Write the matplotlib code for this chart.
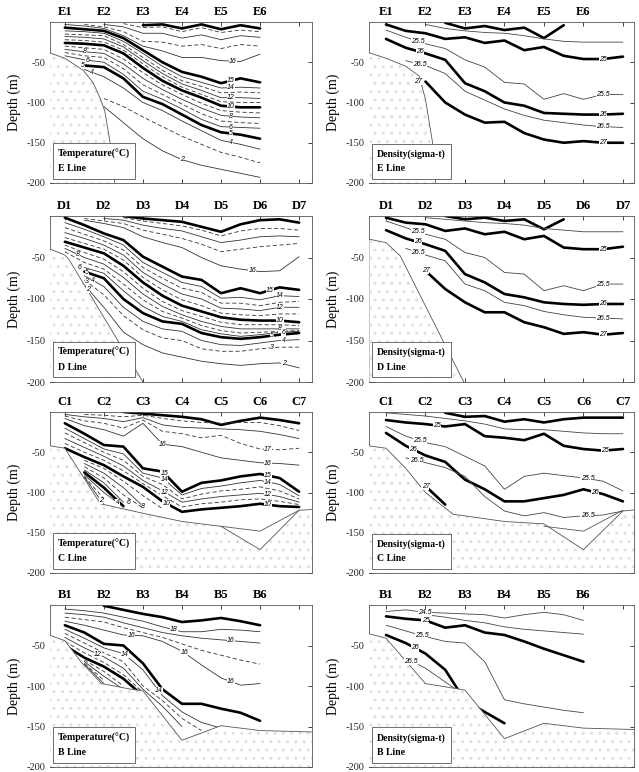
import numpy as np
import matplotlib
matplotlib.use('Agg')
import matplotlib.pyplot as plt

N = None  # no data (contour absent at that station)

# ---------------- E line ----------------
E_STATIONS = ['E1', 'E2', 'E3', 'E4', 'E5', 'E6']
E_TEMP_GRID = [0, 0.5, 1, 1.5, 2, 2.5, 3, 3.5, 4, 4.5, 5]
E_TEMP = {
    '20': [N, N, N, N, -4, -3, -8, -3, -9, -4, -8],
    '19': [N, N, N, -2, -7, -6, -12, -7, -13, -10, -12],
    '18': [N, N, -3, -6, -14, -14, -20, -16, -22, -17, -19],
    '17': [N, -3, -6, -12, -24, -25, -30, -28, -33, -28, -30],
    '16': [-3, -5, -8, -17, -30, -36, -44, -44, -48, -49, -40],
    '15': [-7, -9, -11, -20, -35, -50, -62, -68, -76, -70, -75],
    '14': [-11, -12, -14, -24, -39, -55, -68, -75, -82, -81, -82],
    '13': [-15, -16, -17, -28, -44, -60, -73, -80, -88, -87, -88],
    '12': [-18, -19, -21, -31, -48, -64, -77, -85, -94, -94, -95],
    '11': [-22, -23, -25, -35, -52, -68, -81, -90, -99, -100, -100],
    '10': [-26, -27, -29, -39, -57, -73, -85, -94, -104, -106, -106],
    '9': [-30, -32, -34, -46, -63, -78, -90, -101, -110, -112, -113],
    '8': [-34, -37, -39, -52, -70, -84, -96, -107, -116, -118, -119],
    '7': [-38, -42, -44, -58, -78, -90, -102, -114, -123, -125, -126],
    '6': [-42, -47, -50, -65, -86, -96, -108, -121, -130, -131, -132],
    '5': [N, -54, -56, -70, -93, -102, -115, -128, -137, -140, -145],
    '4': [N, -59, -68, -82, -100, -110, -123, -135, -147, -152, -158],
    '3': [N, N, -95, -105, -118, -130, -142, -152, -162, -168, -175],
    '2': [N, N, -105, -125, -145, -160, -171, -178, -183, -188, -193],
}
E_TEMP_LABELS = [('16', 4.3), ('15', 4.25), ('14', 4.25), ('12', 4.25), ('10', 4.25),
                 ('8', 4.25), ('6', 4.25), ('5', 4.25), ('4', 4.25), ('2', 3.0),
                 ('8', 0.52), ('6', 0.57), ('5', 0.47), ('4', 0.7)]
E_FLOOR_X = [-0.47, 0, 0.47, 0.72, 0.89, 1.02, 1.15, 1.28]
E_FLOOR_D = [-37, -45, -60, -75, -93, -110, -147, -200]

E_DENS_GRID = [0, 0.5, 1, 1.5, 2, 2.5, 3, 3.5, 4, 4.5, 5, 5.5, 6]
E_DENS = {
    '24': [N, N, N, -1, -8, -5, -10, -7, -20, -4, N, N, N],
    '24.5': [N, N, -3, -8, -11, -13, -14, -17, -21, -24, -25, -25, -25],
    '25': [-3, -11, -14, -21, -19, -26, -23, -35, -31, -42, -46, -46, -43],
    '25.5': [-10, -19, -27, -33, -47, -56, -75, -77, -96, -89, -96, -90, -90],
    '26': [-21, -32, -39, -47, -76, -86, -100, -104, -113, -114, -115, -115, -114],
    '26.5': [N, -48, -54, -64, -86, -97, -108, -116, -122, -125, -128, -130, -131],
    '27': [N, N, -74, -100, -115, -125, -124, -138, -146, -150, -148, -150, -150],
}
E_DENS_LABELS = [('25.5', 0.8), ('26', 0.85), ('26.5', 0.85), ('27', 0.8),
                 ('25', 5.5), ('25.5', 5.5), ('26', 5.5), ('26.5', 5.5), ('27', 5.5)]
E_DFLOOR_X = [-0.44, 0, 0.5, 0.84, 1.0, 1.18, 1.26]
E_DFLOOR_D = [-38, -45, -55, -67, -96, -150, -200]

# ---------------- D line ----------------
D_STATIONS = ['D1', 'D2', 'D3', 'D4', 'D5', 'D6', 'D7']
D_GRID = [0, 0.5, 1, 1.5, 2, 2.5, 3, 3.5, 4, 4.5, 5, 5.5, 6]
D_TEMP = {
    '20': [N, N, N, 0, -3, -5, -7, -13, -19, -10, -5, -4, -8],
    '19': [N, N, N, -2, -6, -9, -12, -17, -24, -18, -15, -15, -17],
    '18': [N, N, -3, -5, -11, -15, -18, -25, -32, -29, -25, -24, -25],
    '17': [N, -3, -6, -9, -17, -22, -27, -34, -43, -40, -37, -35, -33],
    '16': [N, -5, -9, -14, -25, -32, -38, -50, -60, -64, -67, -66, -49],
    '15': [-2, -11, -21, -29, -49, -61, -73, -77, -93, -87, -93, -86, -89],
    '14': [-8, -16, -25, -35, -56, -68, -80, -85, -99, -98, -101, -96, -97],
    '13': [-14, -22, -30, -41, -62, -75, -87, -92, -105, -105, -108, -104, -103],
    '12': [-20, -27, -35, -47, -68, -82, -94, -100, -111, -112, -114, -110, -110],
    '11': [-26, -33, -40, -53, -74, -89, -101, -108, -117, -119, -120, -118, -118],
    '10': [-31, -38, -45, -60, -80, -96, -108, -115, -122, -125, -126, -126, -128],
    '9': [-35, -44, -52, -67, -87, -103, -114, -121, -128, -131, -131, -131, -132],
    '8': [-39, -50, -58, -74, -94, -109, -119, -127, -133, -136, -136, -136, -136],
    '7': [-43, -56, -64, -82, -101, -115, -123, -132, -138, -141, -140, -139, -138],
    '6': [N, -62, -69, -90, -109, -121, -127, -137, -142, -145, -143, -140, -139],
    '5': [N, -67, -75, -100, -117, -127, -130, -141, -146, -148, -146, -143, -141],
    '4': [N, -72, -85, -110, -127, -136, -139, -150, -155, -156, -153, -150, -149],
    '3': [N, -77, -95, -120, -137, -147, -150, -160, -163, -163, -160, -158, -158],
    '2': [N, -83, -110, -140, -155, -165, -170, -175, -178, -180, -178, -177, -183],
}
D_TEMP_LABELS = [('16', 4.8), ('15', 5.25), ('14', 5.5), ('12', 5.5), ('10', 5.5),
                 ('8', 5.5), ('6', 5.6), ('5', 5.3), ('4', 5.6), ('3', 5.3), ('2', 5.6),
                 ('8', 0.33), ('6', 0.37), ('5', 0.56), ('4', 0.73), ('3', 0.56), ('2', 0.6)]
D_FLOOR_X = [-0.42, 0, 0.1, 2.0]
D_FLOOR_D = [-39, -47, -52, -200]

D_DENS = {
    '24': [N, N, N, 0, -4, -2, -6, -4, -16, -4, N, N, N],
    '24.5': [N, N, -2, -4, -6, -8, -9, -11, -15, -17, -19, -19, -19],
    '25': [-2, -8, -10, -18, -15, -22, -19, -28, -24, -38, -40, -40, -37],
    '25.5': [-6, -14, -22, -28, -44, -50, -68, -70, -90, -84, -90, -82, -82],
    '26': [-17, -27, -34, -42, -70, -80, -94, -98, -104, -106, -107, -106, -106],
    '26.5': [N, -39, -47, -54, -82, -90, -104, -108, -115, -119, -122, -123, -124],
    '27': [N, N, -66, -88, -104, -116, -116, -128, -134, -142, -140, -143, -141],
}
D_DENS_LABELS = [('25.5', 0.8), ('26', 0.8), ('26.5', 0.8), ('27', 1.0),
                 ('25', 5.5), ('25.5', 5.5), ('26', 5.5), ('26.5', 5.5), ('27', 5.5)]
D_DFLOOR_X = [-0.42, 0, 0.36, 1.97]
D_DFLOOR_D = [-28, -32, -48, -200]

# ---------------- C line ----------------
C_STATIONS = ['C1', 'C2', 'C3', 'C4', 'C5', 'C6', 'C7']
C_GRID = [0, 0.5, 1, 1.5, 2, 2.5, 3, 3.5, 4, 4.5, 5, 5.5, 6]
C_TEMP = {
    '20': [N, N, N, 0, -2, -4, -6, -9, -16, -11, -7, -10, -14],
    '19': [N, -3, -4, -6, -4, -8, -11, -13, -14, -13, -13, -17, -23],
    '18': [-3, -6, -8, -12, -7, -16, -19, -20, -21, -22, -24, -28, -33],
    '17': [-5, -11, -14, -20, -10, -24, -27, -32, -29, -39, -46, -47, -45],
    '16': [-8, -17, -22, -30, -14, -40, -43, -50, -57, -60, -63, -64, -66],
    '15': [-14, -27, -41, -43, -70, -74, -99, -88, -85, -80, -77, -82, -99],
    '14': [-20, -33, -46, -52, -76, -82, -103, -95, -92, -88, -85, -90, -104],
    '13': [-26, -38, -50, -60, -80, -90, -108, -102, -98, -96, -93, -98, -108],
    '12': [-33, -44, -55, -67, -85, -98, -112, -108, -105, -103, -101, -105, -112],
    '11': [-39, -50, -60, -73, -89, -104, -118, -114, -112, -109, -108, -111, -115],
    '10': [-45, -56, -66, -80, -93, -111, -124, -121, -119, -117, -114, -117, -118],
    '9': [N, -60, -70, -86, -104, -120, N, N, N, N, N, N, N],
    '8': [N, -64, -76, -94, -117, N, N, N, N, N, N, N, N],
    '7': [N, -68, -82, -103, -119, N, N, N, N, N, N, N, N],
    '6': [N, -72, -88, -112, N, N, N, N, N, N, N, N, N],
    '5': [N, -75, -94, -117, N, N, N, N, N, N, N, N, N],
    '4': [N, -78, -100, -118, N, N, N, N, N, N, N, N, N],
    '3': [N, -80, -108, N, N, N, N, N, N, N, N, N, N],
    '2': [N, -81, -115, N, N, N, N, N, N, N, N, N, N],
}
C_TEMP_LABELS = [('16', 2.5), ('17', 5.2), ('16', 5.2), ('15', 5.2), ('14', 5.2),
                 ('12', 5.2), ('10', 5.2), ('15', 2.55), ('14', 2.55), ('12', 2.55),
                 ('10', 2.6), ('2', 0.92), ('4', 1.35), ('6', 1.62), ('8', 2.0)]
C_FLOOR_X = [-0.38, 0, 0.91, 2.02, 3.0, 4.0, 5.0, 6.0, 6.4]
C_FLOOR_D = [-42, -45, -114, -126, -136, -142, -171, -122, -121]
C_INNER_X = [4.0, 5.0, 6.0]
C_INNER_D = [-142, -148, -122]

C_DENS = {
    '24': [N, N, N, -1, -6, -5, -12, -9, -13, -9, -7, -7, -7],
    '24.5': [-1, -3, -5, -8, -11, -15, -21, -22, -22, -24, -26, -27, -27],
    '25': [-10, -13, -15, -18, -15, -30, -32, -35, -27, -42, -46, -48, -46],
    '25.5': [-18, -30, -38, -43, -55, -67, -96, -80, -76, -79, -82, -86, -98],
    '26': [-26, -42, -54, -62, -84, -96, -111, -111, -107, -103, -96, -102, -111],
    '26.5': [N, -57, -63, -69, -80, -105, -123, -129, -125, -131, -129, -128, -123],
    '27': [N, N, -92, -115, N, N, N, N, N, N, N, N, N],
}
C_DENS_LABELS = [('25', 1.28), ('25.5', 0.85), ('26', 0.68), ('26.5', 0.77), ('27', 1.0),
                 ('25', 5.55), ('25.5', 5.1), ('26', 5.3), ('26.5', 5.1)]
C_DFLOOR_X = [-0.44, 0, 0.5, 1.0, 1.7, 3.0, 4.0, 5.0, 6.0, 6.4]
C_DFLOOR_D = [-42, -45, -70, -100, -127, -136, -139, -171, -123, -121]

# ---------------- B line ----------------
B_STATIONS = ['B1', 'B2', 'B3', 'B4', 'B5', 'B6']
B_GRID = [0, 0.5, 1, 1.5, 2, 2.5, 3, 3.5, 4, 4.5, 5]
B_TEMP = {
    '20': [N, N, -1, -6, -11, -15, -21, -19, -16, -20, -25],
    '18': [-5, -7, -10, -15, -20, -27, -33, -33, -30, -31, -33],
    '16': [-10, -12, -15, -22, -28, -34, -38, -41, -43, -45, -47],
    '17': [-15, -18, -21, -28, -34, -40, -48, -56, -62, -68, -73],
    '16b': [-20, -25, -31, -37, -38, -45, -57, -74, -90, -99, -97],
    '15': [-25, -34, -48, -50, -72, -104, -122, -122, -128, -133, -143],
    '14': [-30, -41, -53, -60, -80, -112, -132, -145, -152, N, N],
    '13': [-35, -47, -59, -70, -100, -118, -140, -155, N, N, N],
    '12': [-40, -53, -64, -78, -104, -125, -150, N, N, N, N],
    '11': [-45, -59, -71, -86, -108, N, N, N, N, N, N],
    '10': [-50, -65, -76, -91, -112, N, N, N, N, N, N],
    '9': [N, -68, -82, -100, N, N, N, N, N, N, N],
    '8': [N, -70, -88, -104, N, N, N, N, N, N, N],
    '7': [N, -72, -93, N, N, N, N, N, N, N, N],
    '6': [N, -73, -97, N, N, N, N, N, N, N, N],
}
B_TEMP_LABELS = [('16b', 1.7), ('18', 2.8), ('16', 4.25), ('16b', 3.06), ('16b', 4.25),
                 ('14', 1.53), ('12', 0.85), ('14', 2.4)]
B_FLOOR_X = [-0.47, 0, 0.43, 0.94, 1.7, 2.0, 3.0, 4.0, 5.0, 6.5]
B_FLOOR_D = [-36, -44, -71, -97, -104, -106, -167, -149, -155, -157]

B_DENS = {
    '24.5': [-8, -6, -9, -10, -11, -12, -16, -12, -9, -12, -19],
    '24.75': [N, N, -12, -15, -19, -22, -27, -30, -32, -34, -36],
    '25': [-14, -17, -19, -28, -25, -34, -37, -45, -54, -62, -70],
    '25.5': [-25, -32, -39, -45, -47, -70, -117, -122, -126, -130, -133],
    '26': [-37, -47, -60, -80, -118, -132, -146, N, N, N, N],
    '26.5': [N, -66, -78, -95, -112, N, N, N, N, N, N],
}
B_DENS_LABELS = [('24.5', 0.98), ('25', 1.0), ('25.5', 0.9), ('26', 0.73), ('26.5', 0.64)]
B_DFLOOR_X = [-0.47, 0, 1.0, 1.75, 2.0, 3.0, 4.0, 5.0, 6.5]
B_DFLOOR_D = [-35, -41, -97, -103, -105, -165, -146, -152, -154]

# ---------------- style ----------------
plt.rcParams['font.family'] = 'serif'
plt.rcParams['font.serif'] = ['Liberation Serif', 'DejaVu Serif']
plt.rcParams['axes.unicode_minus'] = False

FIG_W, FIG_H = 639, 772
ROWS_PX = [(22, 183), (216, 382), (412, 573), (605, 767)]
COLS_PX = [(50, 312), (369, 634)]
XLIMS = [(-0.38, 6.33), (-0.43, 6.28)]


def line_style(key, kind):
    v = float(key.rstrip('ab'))
    if kind == 'temp':
        if v % 5 == 0:
            return dict(color='black', lw=1.9)
        if v % 2 == 1:
            return dict(color='#333333', lw=0.6, ls=(0, (5, 3)))
        return dict(color='#333333', lw=0.6)
    if v.is_integer():
        return dict(color='black', lw=1.9)
    return dict(color='#444444', lw=0.6)


def draw_panel(ax, col, stations, grid, lines, labels, floor_x, floor_d, kind, title, inner=None):
    grid = np.array(grid, dtype=float)
    for key, depths in lines.items():
        ax.plot(grid, np.array(depths, dtype=float), zorder=2, solid_capstyle='round',
                **line_style(key, kind))
    # sea floor: white stippled area hides contour ends below it
    ax.fill_between(floor_x, floor_d, -200, facecolor='white', edgecolor='#e0e0e0',
                    hatch='..', linewidth=0, zorder=3)
    ax.plot(floor_x, floor_d, color='#555555', lw=0.6, zorder=4)
    if inner is not None:
        ax.plot(inner[0], inner[1], color='#555555', lw=0.6, zorder=4)
    for key, x in labels:
        d = np.array(lines[key], dtype=float)
        ok = ~np.isnan(d)
        y = np.interp(x, grid[ok], d[ok])
        ax.text(x, y, key.rstrip('ab'), fontsize=5, family='Liberation Sans', style='italic',
                ha='center', va='center', zorder=5,
                bbox=dict(boxstyle='square,pad=0.02', fc='white', ec='none'))
    ax.set_xlim(*XLIMS[col])
    ax.set_ylim(-200, 0)
    ax.set_yticks([-50, -100, -150, -200])
    ax.set_xticks(range(7))
    ax.set_xticklabels([])
    ax.tick_params(direction='in', length=3, width=0.6, top=True, right=True,
                   labelsize=7.5, colors='#222222')
    ax.set_ylabel('Depth (m)', fontsize=10, labelpad=4)
    for s in ax.spines.values():
        s.set_linewidth(0.6)
        s.set_color('#555555')
    sec = ax.secondary_xaxis('top')
    sec.set_xticks(range(len(stations)), labels=stations)
    sec.tick_params(length=0, pad=3, labelsize=9)
    for t in sec.get_xticklabels():
        t.set_fontweight('bold')
    sec.spines['top'].set_visible(False)
    ax.text(0.03, 0.06, title, transform=ax.transAxes, ha='left', va='bottom',
            fontsize=7, fontweight='bold', linespacing=1.8, zorder=6,
            bbox=dict(boxstyle='square,pad=0.55', fc='white', ec='#555555', lw=0.6))


fig = plt.figure(figsize=(FIG_W / 100, FIG_H / 100), dpi=100)


def make_ax(row, col):
    top, bot = ROWS_PX[row]
    left, right = COLS_PX[col]
    return fig.add_axes([left / FIG_W, 1 - bot / FIG_H, (right - left) / FIG_W, (bot - top) / FIG_H])


draw_panel(make_ax(0, 0), 0, E_STATIONS, E_TEMP_GRID, E_TEMP, E_TEMP_LABELS,
           E_FLOOR_X, E_FLOOR_D, 'temp', 'Temperature(°C)\nE Line')
draw_panel(make_ax(0, 1), 1, E_STATIONS, E_DENS_GRID, E_DENS, E_DENS_LABELS,
           E_DFLOOR_X, E_DFLOOR_D, 'dens', 'Density(sigma-t)\nE Line')
draw_panel(make_ax(1, 0), 0, D_STATIONS, D_GRID, D_TEMP, D_TEMP_LABELS,
           D_FLOOR_X, D_FLOOR_D, 'temp', 'Temperature(°C)\nD Line')
draw_panel(make_ax(1, 1), 1, D_STATIONS, D_GRID, D_DENS, D_DENS_LABELS,
           D_DFLOOR_X, D_DFLOOR_D, 'dens', 'Density(sigma-t)\nD Line')
draw_panel(make_ax(2, 0), 0, C_STATIONS, C_GRID, C_TEMP, C_TEMP_LABELS,
           C_FLOOR_X, C_FLOOR_D, 'temp', 'Temperature(°C)\nC Line', inner=(C_INNER_X, C_INNER_D))
draw_panel(make_ax(2, 1), 1, C_STATIONS, C_GRID, C_DENS, C_DENS_LABELS,
           C_DFLOOR_X, C_DFLOOR_D, 'dens', 'Density(sigma-t)\nC Line', inner=(C_INNER_X, C_INNER_D))
draw_panel(make_ax(3, 0), 0, B_STATIONS, B_GRID, B_TEMP, B_TEMP_LABELS,
           B_FLOOR_X, B_FLOOR_D, 'temp', 'Temperature(°C)\nB Line')
draw_panel(make_ax(3, 1), 1, B_STATIONS, B_GRID, B_DENS, B_DENS_LABELS,
           B_DFLOOR_X, B_DFLOOR_D, 'dens', 'Density(sigma-t)\nB Line')

fig.savefig('out.png', dpi=100)
